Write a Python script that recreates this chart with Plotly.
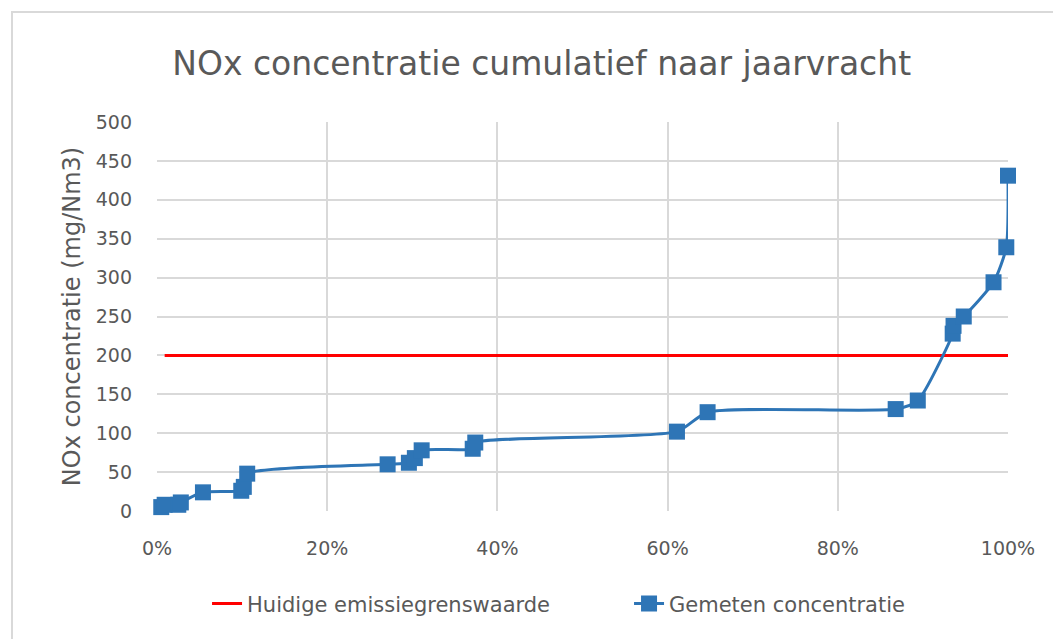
import plotly.graph_objects as go

# Data
cum_share = [0.005, 0.009, 0.025, 0.028, 0.054, 0.099, 0.102, 0.106, 0.271, 0.296,
             0.303, 0.311, 0.371, 0.374, 0.611, 0.647, 0.868, 0.894, 0.935, 0.936,
             0.948, 0.983, 0.998, 1.0]
concentration = [5, 8, 8, 11, 24, 26, 31, 48, 60, 62,
                 68, 78, 80, 88, 102, 127, 131, 142, 228, 238,
                 250, 294, 339, 431]
limit_x = [0.009, 1.0]
limit_y = [200, 200]

title_text = "NOx concentratie cumulatief naar jaarvracht"
y_title = "NOx concentratie (mg/Nm3)"
limit_name = "Huidige emissiegrenswaarde"
measured_name = "Gemeten concentratie"

FONT = "DejaVu Sans, sans-serif"
GRAY = "#595959"
GRID = "#d9d9d9"

fig = go.Figure()
fig.add_trace(go.Scatter(
    x=limit_x, y=limit_y, mode="lines", name=limit_name,
    line=dict(color="#ff0000", width=3), cliponaxis=False,
))
fig.add_trace(go.Scatter(
    x=cum_share, y=concentration, mode="lines+markers", name=measured_name,
    line=dict(color="#2e75b6", width=3, shape="spline", smoothing=0.6),
    marker=dict(symbol="square", size=16, color="#2e75b6"),
    cliponaxis=False,
))

fig.update_layout(
    width=1061, height=639,
    margin=dict(l=149, r=61, t=114, b=136, autoexpand=False),
    paper_bgcolor="white", plot_bgcolor="white",
    font=dict(family=FONT, color=GRAY, size=18),
    title=dict(text=title_text, x=0.503, xanchor="center", y=0.914, yanchor="middle",
               font=dict(family=FONT, size=33, color=GRAY)),
    showlegend=True,
    legend=dict(orientation="h", x=0.0588, xanchor="left", y=-0.239, yanchor="middle",
                font=dict(family=FONT, size=21, color=GRAY),
                entrywidth=377, entrywidthmode="pixels",
                traceorder="normal"),
    shapes=[dict(type="rect", xref="paper", yref="paper",
                 x0=-0.1704, x1=1.08, y0=-0.36, y1=1.2828,
                 line=dict(color=GRID, width=2), layer="below")],
)
fig.update_xaxes(
    range=[0, 1], dtick=0.2, tick0=0, tickformat=".0%",
    showgrid=True, gridcolor=GRID, gridwidth=2, zeroline=False,
    showline=False, ticks="", ticklabelstandoff=24,
    tickfont=dict(size=19, color=GRAY),
)
fig.update_yaxes(
    range=[0, 500], dtick=50, tick0=0,
    showgrid=True, gridcolor=GRID, gridwidth=2, zeroline=False,
    showline=False, ticks="", ticklabelstandoff=24,
    tickfont=dict(size=19, color=GRAY),
    title=dict(text=y_title, font=dict(size=24, color=GRAY), standoff=8),
)

fig.write_html("out.html")
